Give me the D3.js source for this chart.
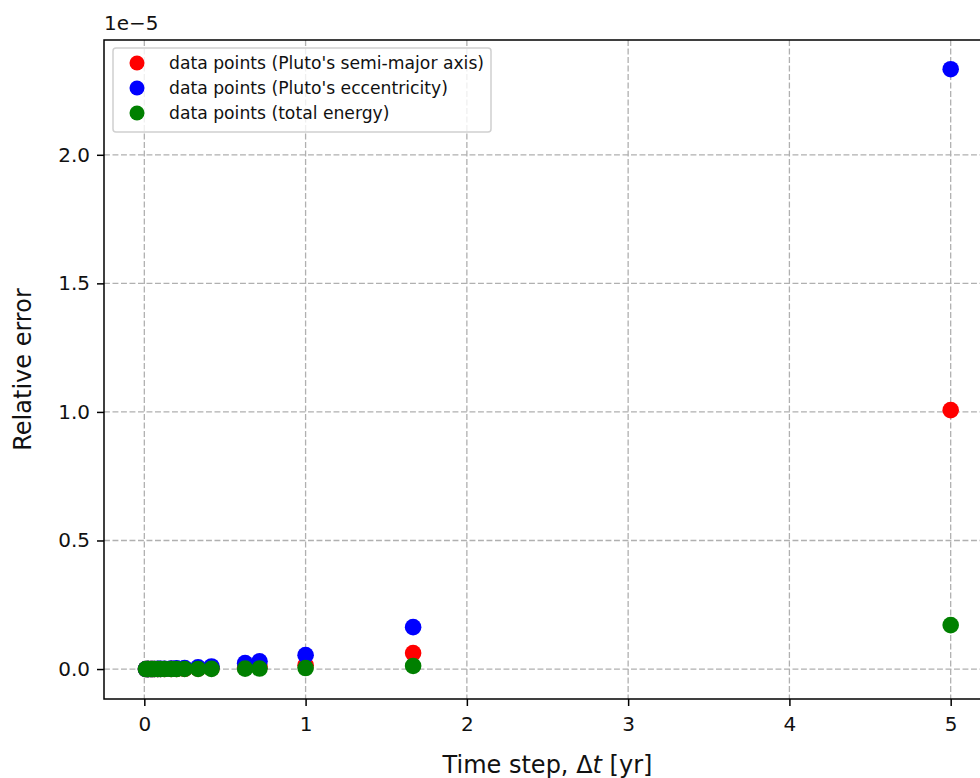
<!DOCTYPE html>
<html><head>
<meta charset="utf-8">
<script src="https://cdn.jsdelivr.net/npm/d3@7"></script>
<style>
  body { margin: 0; background: white; }
  svg { font-family: "DejaVu Sans", sans-serif; }
</style>
</head>
<body>
<svg id="chart" width="980" height="778"></svg>
<script>
  // time steps (yr)
  let timeSteps = [5, 1.6667, 1.0, 0.7143, 0.625, 0.4167, 0.3333, 0.25, 0.2, 0.1667,
                   0.125, 0.1, 0.0833, 0.0625, 0.05, 0.04, 0.025, 0.02, 0.01];
  // relative errors, in units of 1e-5
  let semiMajorErr = [1.007, 0.062, 0.015, 0.008, 0.006, 0.003, 0.002, 0.001, 0.0008, 0.0005,
                      0.0003, 0.0002, 0.0001, 0.0001, 0.00005, 0.00003, 0.00001, 0.00001, 0.0];
  let eccentricityErr = [2.333, 0.163, 0.054, 0.030, 0.023, 0.010, 0.007, 0.004, 0.003, 0.002,
                         0.001, 0.0008, 0.0005, 0.0003, 0.0002, 0.0001, 0.00005, 0.00003, 0.00001];
  let energyErr = [0.171, 0.012, 0.004, 0.002, 0.0015, 0.0007, 0.0004, 0.0002, 0.0001, 0.0001,
                   0.00005, 0.00003, 0.00002, 0.00001, 0.0, 0.0, 0.0, 0.0, 0.0];
  let xTicks = [0, 1, 2, 3, 4, 5];
  let yTicks = [0, 0.5, 1.0, 1.5, 2.0];
  let seriesNames = ["data points (Pluto's semi-major axis)", "data points (Pluto's eccentricity)", "data points (total energy)"];
  let seriesColors = ["red", "blue", "green"];

  let svg = d3.select("#chart");
  let mLeft = 104, mRight = 991, mTop = 40, mBottom = 699;

  let x = d3.scaleLinear().domain([-0.25, 5.25]).range([mLeft, mRight]);
  let y = d3.scaleLinear().domain([-0.1165, 2.4465]).range([mBottom, mTop]);

  // grid
  let grid = svg.append("g");
  xTicks.forEach(function(t) {
    grid.append("line")
        .attr("x1", x(t)).attr("x2", x(t)).attr("y1", mTop).attr("y2", mBottom)
        .style("stroke", "#b0b0b0").style("stroke-width", 1.3).style("stroke-dasharray", "5.9,2.6");
  });
  yTicks.forEach(function(t) {
    grid.append("line")
        .attr("x1", mLeft).attr("x2", mRight).attr("y1", y(t)).attr("y2", y(t))
        .style("stroke", "#b0b0b0").style("stroke-width", 1.3).style("stroke-dasharray", "5.9,2.6");
  });

  // points
  let allSeries = [semiMajorErr, eccentricityErr, energyErr];
  allSeries.forEach(function(vals, i) {
    svg.append("g").selectAll("circle")
        .data(vals)
        .enter().append("circle")
        .attr("cx", function(d, j) { return x(timeSteps[j]); })
        .attr("cy", function(d) { return y(d); })
        .attr("r", 8.3)
        .style("fill", seriesColors[i]);
  });

  // axes
  let xAxis = svg.append("g")
      .attr("transform", "translate(0," + mBottom + ")")
      .call(d3.axisBottom(x).tickValues(xTicks).tickFormat(d3.format("d")).tickSize(7).tickPadding(11).tickSizeOuter(0));
  let yAxis = svg.append("g")
      .attr("transform", "translate(" + mLeft + ",0)")
      .call(d3.axisLeft(y).tickValues(yTicks).tickFormat(d3.format(".1f")).tickSize(7).tickPadding(7).tickSizeOuter(0));
  [xAxis, yAxis].forEach(function(a) {
    a.select(".domain").remove();
    a.selectAll("line").style("stroke", "black").style("stroke-width", 1.5);
    a.selectAll("text").style("font-size", "20px").style("fill", "#111")
        .style("font-family", "DejaVu Sans");
  });

  // frame
  svg.append("rect")
      .attr("x", mLeft).attr("y", mTop).attr("width", mRight - mLeft).attr("height", mBottom - mTop)
      .style("fill", "none").style("stroke", "black").style("stroke-width", 1.5);

  // offset text
  svg.append("text").attr("x", mLeft).attr("y", 30)
      .style("font-size", "20px").style("fill", "#111").text("1e\u22125");

  // axis labels
  let xl = svg.append("text")
      .attr("x", (mLeft + mRight) / 2).attr("y", 773)
      .attr("text-anchor", "middle")
      .style("font-size", "24px").style("fill", "#111");
  xl.append("tspan").text("Time step, \u0394");
  xl.append("tspan").style("font-style", "italic").text("t");
  xl.append("tspan").text(" [yr]");

  svg.append("text")
      .attr("transform", "translate(31," + ((mTop + mBottom) / 2) + ") rotate(-90)")
      .attr("text-anchor", "middle")
      .style("font-size", "24px").style("fill", "#111")
      .text("Relative error");

  // legend
  let legend = svg.append("g");
  legend.append("rect")
      .attr("x", 113).attr("y", 48).attr("width", 378).attr("height", 84).attr("rx", 3)
      .style("fill", "white").style("fill-opacity", 0.8)
      .style("stroke", "#d0d0d0").style("stroke-width", 1.5);
  seriesNames.forEach(function(name, i) {
    legend.append("circle")
        .attr("cx", 137).attr("cy", 63 + i * 25).attr("r", 7.5)
        .style("fill", seriesColors[i]);
    legend.append("text")
        .attr("x", 169).attr("y", 69 + i * 25)
        .style("font-size", "17.2px").style("fill", "#111")
        .text(name);
  });
</script>
</body>
</html>
